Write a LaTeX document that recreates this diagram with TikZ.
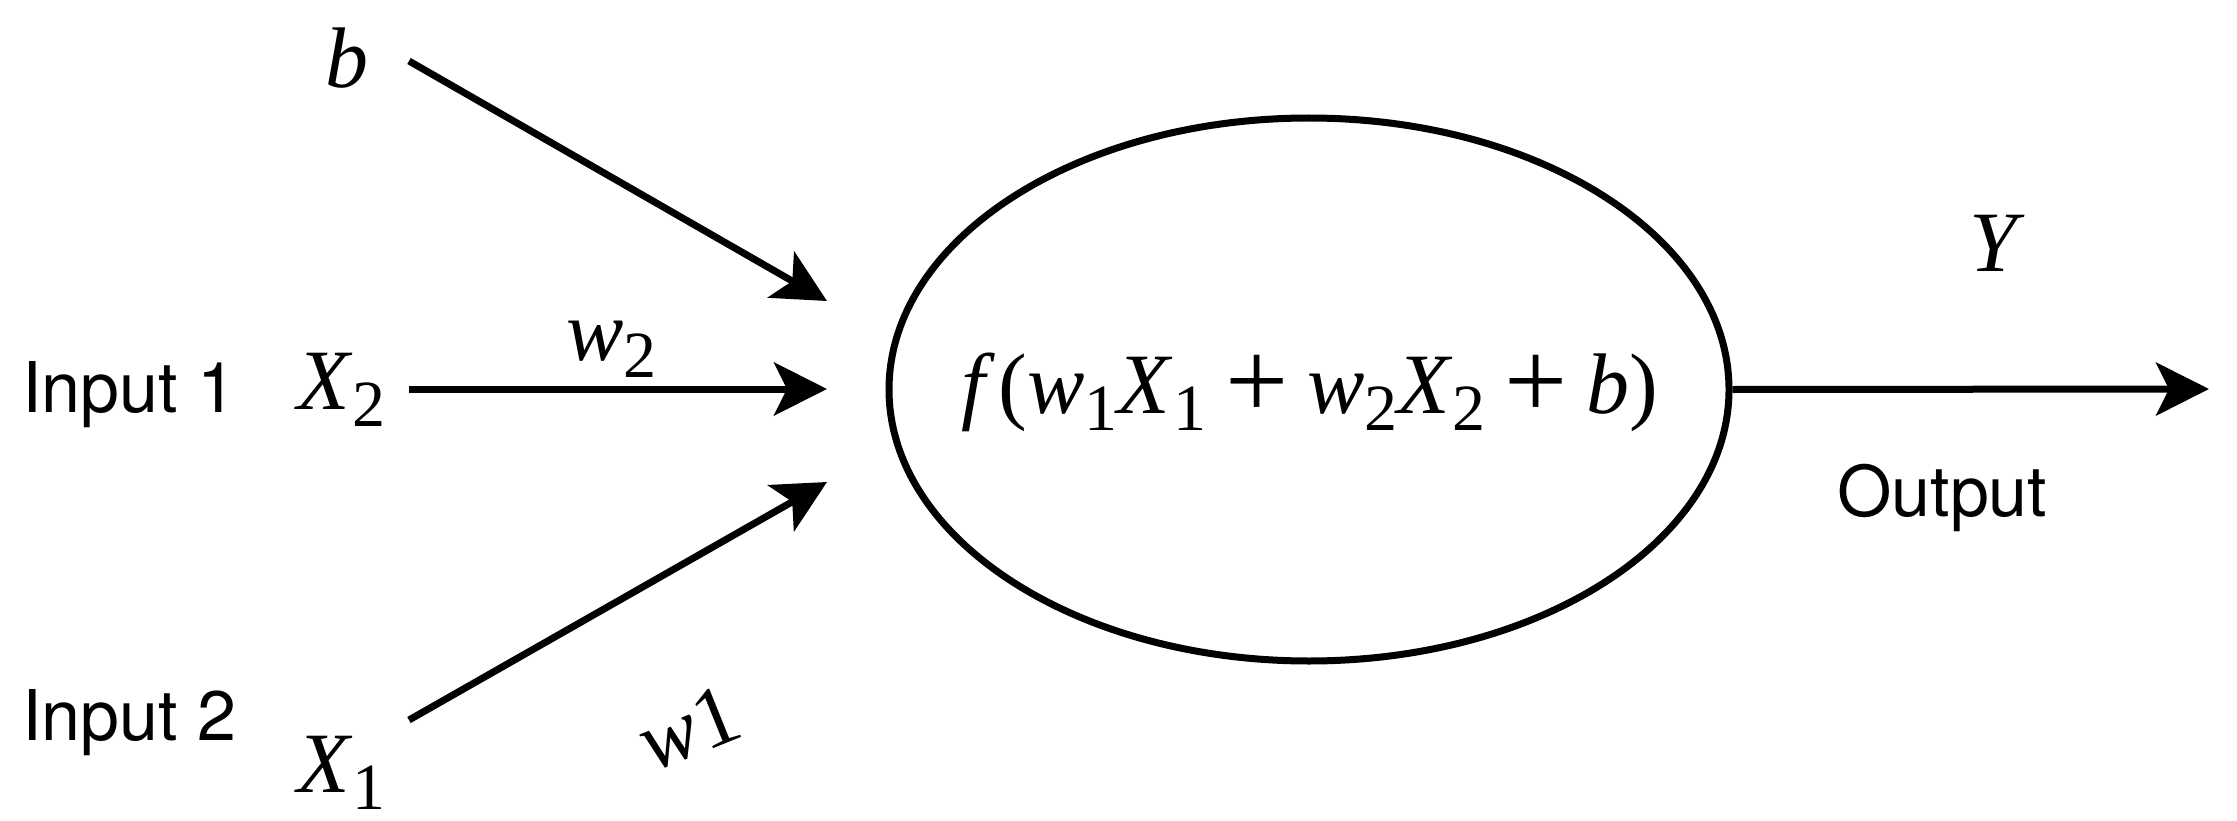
\documentclass[tikz,border=0pt]{standalone}
\usepackage{fontspec}
\setmainfont{Liberation Serif}
\setsansfont{TeX Gyre Heros}
\usetikzlibrary{arrows.meta,shapes.geometric}
\newcommand\mv[1]{\textit{#1}}
\newcommand\sbs[1]{\raisebox{-0.2em}{\fontsize{66}{68}\selectfont #1}}
\newcommand\pl{\hspace{0.22em}\raisebox{-0.06em}{\fontsize{112}{112}\selectfont +}\hspace{0.22em}}
\tikzset{
  conn/.style={line width=7pt,-{Stealth[length=53pt,width=53pt,inset=13pt]}},
  sanslbl/.style={font=\sffamily\fontsize{70}{80}\selectfont,inner sep=0pt},
  mathlbl/.style={font=\fontsize{86}{96}\selectfont,inner sep=0pt},
  neuron/.style={draw,ellipse,line width=7pt,minimum width=840pt,minimum height=543pt,inner sep=0pt}
}
\begin{document}
\begin{tikzpicture}[x=1pt,y=-1pt]
\useasboundingbox (0,0) rectangle (2237,821);
% neuron
\node[neuron] (n) at (1309,389.5) {};
\node[mathlbl,anchor=base] (fx) at (1310,413)
  {\mv{f}\hspace{0.04em}(\mv{w}\sbs{1}\mv{X}\sbs{1}\pl\mv{w}\sbs{2}\mv{X}\sbs{2}\pl\mv{b})};
% labels
\node[mathlbl,anchor=base west] (bl) at (325,88) {\mv{b}};
\node[sanslbl,anchor=base west] (in1) at (22,412) {Input 1};
\node[mathlbl,anchor=base west] (x2) at (297,409) {\mv{X}\sbs{2}};
\node[sanslbl,anchor=base west] (in2) at (22,740) {Input 2};
\node[mathlbl,anchor=base west] (x1) at (297,792) {\mv{X}\sbs{1}};
\node[mathlbl,anchor=base west] (w2) at (566,360) {\mv{w}\sbs{2}};
\node[mathlbl,rotate=22,inner sep=0pt] (w1) at (689,728) {\mv{w}1};
\node[mathlbl,anchor=base west] (yl) at (1969,271) {\mv{Y}};
\node[sanslbl,anchor=base west] (out) at (1837,516) {Output};
% connector ends
\coordinate (bs) at (409,61);
\coordinate (bt) at (827,301);
\coordinate (x2s) at (409,389);
\coordinate (x2t) at (827,389);
\coordinate (x1s) at (409,720);
\coordinate (x1t) at (827,482);
\coordinate (yt) at (2209,389);
% connectors
\draw[conn] (bs) -- (bt);
\draw[conn] (x2s) -- (x2t);
\draw[conn] (x1s) -- (x1t);
\draw[conn] (n.east) -- (yt);
\end{tikzpicture}
\end{document}
